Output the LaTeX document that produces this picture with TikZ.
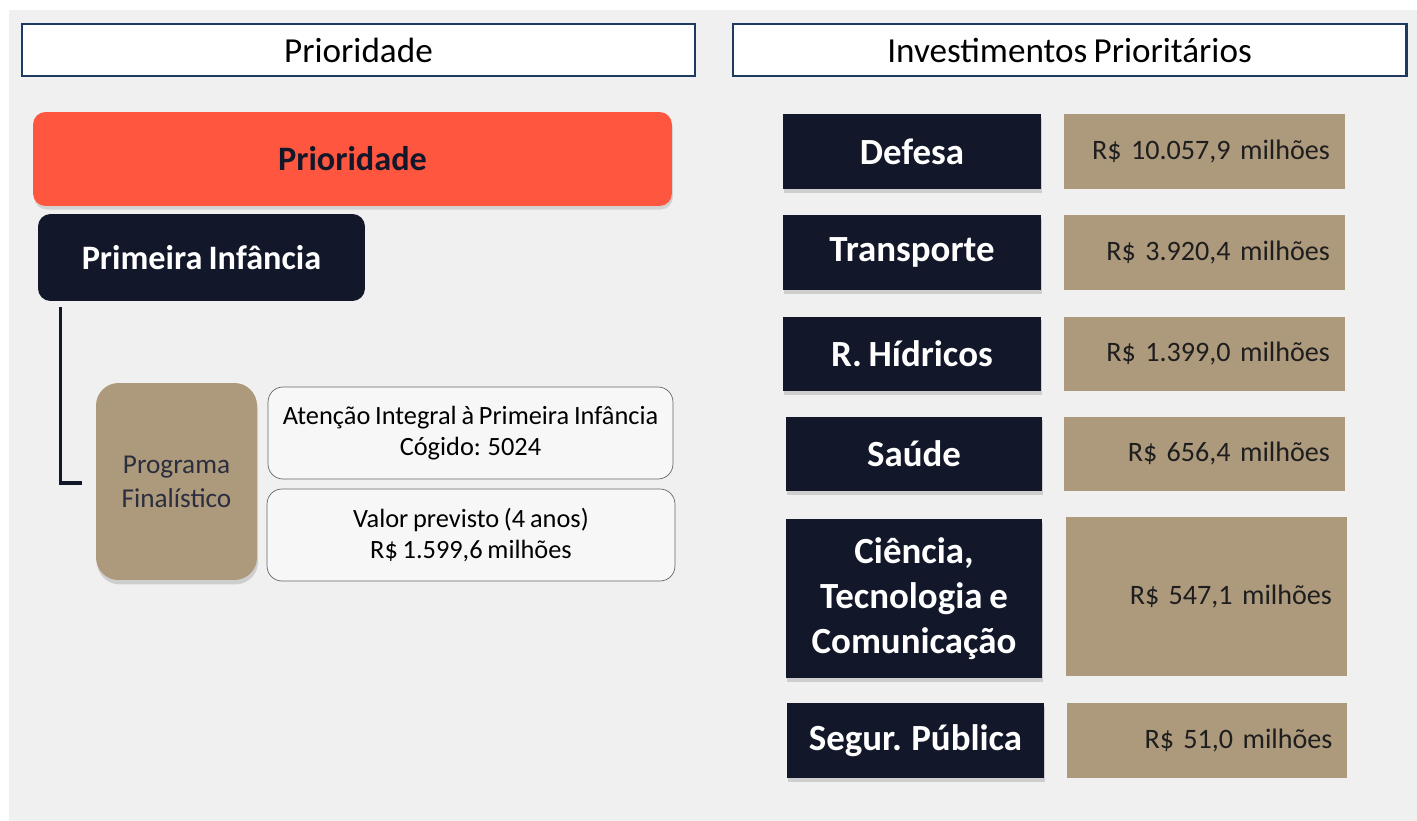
\documentclass[tikz,border=0pt]{standalone}
\usepackage{fontspec}
\setmainfont{Carlito}[WordSpace=0.8]
\usetikzlibrary{shadows}
\definecolor{navy}{HTML}{121729}
\definecolor{coral}{HTML}{FF5640}
\definecolor{sand}{HTML}{AD997B}
\definecolor{panel}{HTML}{F0F0F0}
\definecolor{frame}{HTML}{1F3A5F}
\definecolor{ink}{HTML}{1E1E1E}
\tikzset{
  header/.style={draw=frame, line width=1.2pt, fill=white, minimum width=13.48cm, minimum height=1.04cm, font=\fontsize{20}{24}\selectfont},
  area/.style={fill=navy, text=white, minimum width=5.16cm, minimum height=1.5cm, align=center, font=\bfseries\fontsize{21}{25.5}\selectfont, drop shadow={shadow xshift=0.6pt, shadow yshift=-2.2pt, opacity=0.3}},
  amount/.style={fill=sand, text=ink, text width=5.02cm, inner xsep=0.3cm, minimum height=1.5cm, align=right, font=\fontsize{16}{19}\selectfont},
  infobox/.style={draw=black!60, fill=black!3, rounded corners=0.3cm, minimum height=1.84cm, align=center, font=\fontsize{15}{18}\selectfont},
  link/.style={draw=navy, line width=2pt}
}
\begin{document}
\begin{tikzpicture}[x=0.02cm,y=-0.02cm]
\useasboundingbox (0,0) rectangle (1417,821);
\fill[white] (0,0) rectangle (1417,821);
\fill[panel] (9,10) rectangle (1417,821);
% cabecalhos
\node[header] (hdrL) at (358.5,50) {Prioridade};
\node[header] (hdrR) at (1069.5,50) {Investimentos Prioritários};
% lado esquerdo
\node[fill=coral, text=navy, rounded corners=0.25cm, minimum width=12.78cm, minimum height=1.88cm, font=\bfseries\fontsize{19.5}{23}\selectfont, drop shadow={shadow xshift=0.6pt, shadow yshift=-2pt, opacity=0.25}] (prio) at (352.5,159) {Prioridade};
\node[fill=navy, text=white, rounded corners=0.25cm, minimum width=6.54cm, minimum height=1.74cm, font=\bfseries\fontsize{19.5}{23}\selectfont] (infancia) at (201.5,257.5) {Primeira Infância};
\node[fill=sand, text=navy!90, rounded corners=0.45cm, minimum width=3.22cm, minimum height=3.94cm, align=center, font=\fontsize{15.5}{19.3}\selectfont, drop shadow={shadow xshift=0.6pt, shadow yshift=-2.5pt, opacity=0.3}] (prog) at (176.5,481.5) {Programa\\Finalístico};
\node[infobox, minimum width=8.1cm] (atencao) at (470.5,433) {Atenção Integral à Primeira Infância\\Cógido: 5024};
\node[infobox, minimum width=8.16cm] (valor) at (471,535) {Valor previsto (4 anos)\\R\$ 1.599,6 milhões};
\coordinate (tip) at (82,483);
\draw[link] ([shift={(23,6)}]infancia.south west) |- (tip);
% lado direito
\node[area] (defesa) at (912,151.5) {Defesa};
\node[amount] (vdefesa) at (1204.5,151.5) {R\$ 10.057,9 milhões};
\node[area] (transp) at (912,252.5) {Transporte};
\node[amount] (vtransp) at (1204.5,252.5) {R\$ 3.920,4 milhões};
\node[area] (hidr) at (912,354) {R. Hídricos};
\node[amount] (vhidr) at (1204.5,354) {R\$ 1.399,0 milhões};
\node[area, minimum width=5.12cm] (saude) at (914,454) {Saúde};
\node[amount] (vsaude) at (1204.5,454) {R\$ 656,4 milhões};
\node[area, minimum width=5.12cm, minimum height=3.18cm] (cti) at (914,598.5) {Ciência,\\Tecnologia e\\Comunicação};
\node[amount, minimum height=3.18cm] (vcti) at (1206.5,596.5) {R\$ 547,1 milhões};
\node[area, minimum width=5.14cm] (seg) at (915.5,740.5) {Segur. Pública};
\node[amount] (vseg) at (1207,740.5) {R\$ 51,0 milhões};
\end{tikzpicture}
\end{document}
